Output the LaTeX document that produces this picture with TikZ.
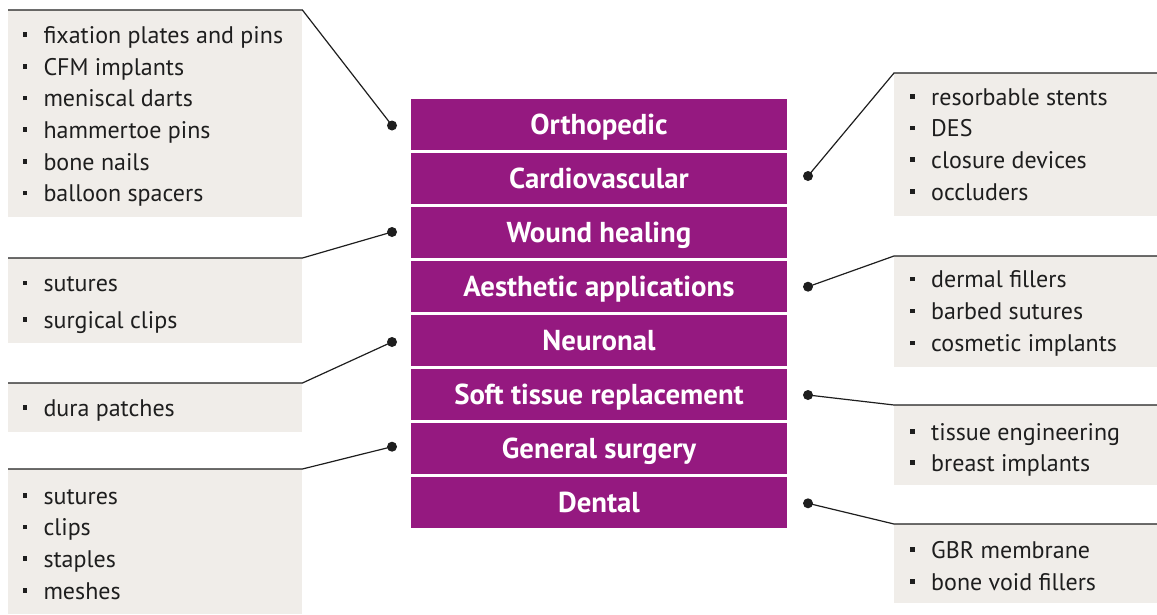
\documentclass[tikz,border=0pt]{standalone}
\usepackage{fontspec}
\setmainfont{PT Sans}
\definecolor{purp}{RGB}{149,25,128}
\definecolor{panelgray}{RGB}{240,237,233}
\definecolor{ink}{RGB}{30,30,30}
\begin{document}
\begin{tikzpicture}[x=1pt,y=-1pt,
  cat/.style={fill=purp, text=white, minimum width=376pt, minimum height=51.5pt, inner sep=0pt,
    text height=19pt, text depth=0pt,
    font=\fontsize{28.8}{32}\selectfont\bfseries},
  panel/.style={fill=panelgray, inner sep=0pt, anchor=north west},
  item/.style={anchor=base west, inner sep=0pt, text=ink, font=\fontsize{24}{30}\selectfont},
  dotc/.style={circle, fill=ink, minimum size=10pt, inner sep=0pt},
  conn/.style={draw=ink, line width=1.2pt}
]
\useasboundingbox (0,0) rectangle (1157,614);
\newcommand{\itm}[1]{\rule[6.5pt]{4.5pt}{4.5pt}\hspace{16.5pt}#1}

% categories
\node[cat] (c1) at (599,124.5) {Orthopedic};
\node[cat] (c2) at (599,178.5) {Cardiovascular};
\node[cat] (c3) at (599,232.5) {Wound healing};
\node[cat] (c4) at (599,286.5) {Aesthetic applications};
\node[cat] (c5) at (599,340.5) {Neuronal};
\node[cat] (c6) at (599,394.5) {Soft tissue replacement};
\node[cat] (c7) at (599,448.5) {General surgery};
\node[cat] (c8) at (599,502.5) {Dental};

% panels
\node[panel, minimum width=294pt, minimum height=207pt] (l1) at (8,10) {};
\node[panel, minimum width=294pt, minimum height=85pt] (l2) at (8,258) {};
\node[panel, minimum width=294pt, minimum height=49pt] (l3) at (8,383) {};
\node[panel, minimum width=294pt, minimum height=145pt] (l4) at (8,469) {};
\node[panel, minimum width=263pt, minimum height=143pt] (r1) at (894,73) {};
\node[panel, minimum width=263pt, minimum height=111pt] (r2) at (894,256) {};
\node[panel, minimum width=263pt, minimum height=80pt] (r3) at (894,405) {};
\node[panel, minimum width=263pt, minimum height=79pt] (r4) at (894,524) {};

% items
\foreach \t [count=\i] in {fixation plates and pins, CFM implants, meniscal darts, hammertoe pins, bone nails, balloon spacers}
  \node[item] (l1i\i) at (22.3,{43.3+31.7*(\i-1)}) {\itm{\t}};
\foreach \t [count=\i] in {sutures, surgical clips}
  \node[item] (l2i\i) at (22.3,{291.7+36.7*(\i-1)}) {\itm{\t}};
\node[item] (l3i1) at (22.3,416) {\itm{dura patches}};
\foreach \t [count=\i] in {sutures, clips, staples, meshes}
  \node[item] (l4i\i) at (22.3,{504+31.7*(\i-1)}) {\itm{\t}};
\foreach \t [count=\i] in {resorbable stents, DES, closure devices, occluders}
  \node[item] (r1i\i) at (910,{105+31.7*(\i-1)}) {\itm{\t}};
\foreach \t [count=\i] in {dermal fillers, barbed sutures, cosmetic implants}
  \node[item] (r2i\i) at (910,{287.7+31.9*(\i-1)}) {\itm{\t}};
\foreach \t [count=\i] in {tissue engineering, breast implants}
  \node[item] (r3i\i) at (910,{440+31.2*(\i-1)}) {\itm{\t}};
\foreach \t [count=\i] in {GBR membrane, bone void fillers}
  \node[item] (r4i\i) at (910,{558.3+31.7*(\i-1)}) {\itm{\t}};

% dots
\node[dotc] (d1) at (392,125.5) {};
\node[dotc] (d3) at (392,232) {};
\node[dotc] (d5) at (392,342) {};
\node[dotc] (d7) at (392,446.7) {};
\node[dotc] (d2) at (808,176) {};
\node[dotc] (d4) at (808,286.7) {};
\node[dotc] (d6) at (808,395) {};
\node[dotc] (d8) at (808,503.3) {};

% connectors
\draw[conn] (d1.center) -- (l1.north east) -- (l1.north west);
\draw[conn] (d3.center) -- (l2.north east) -- (l2.north west);
\draw[conn] (d5.center) -- (l3.north east) -- (l3.north west);
\draw[conn] (d7.center) -- (l4.north east) -- (l4.north west);
\draw[conn] (d2.center) -- (r1.north west) -- (r1.north east);
\draw[conn] (d4.center) -- (r2.north west) -- (r2.north east);
\draw[conn] (d6.center) -- (r3.north west) -- (r3.north east);
\draw[conn] (d8.center) -- (r4.north west) -- (r4.north east);
\end{tikzpicture}
\end{document}
